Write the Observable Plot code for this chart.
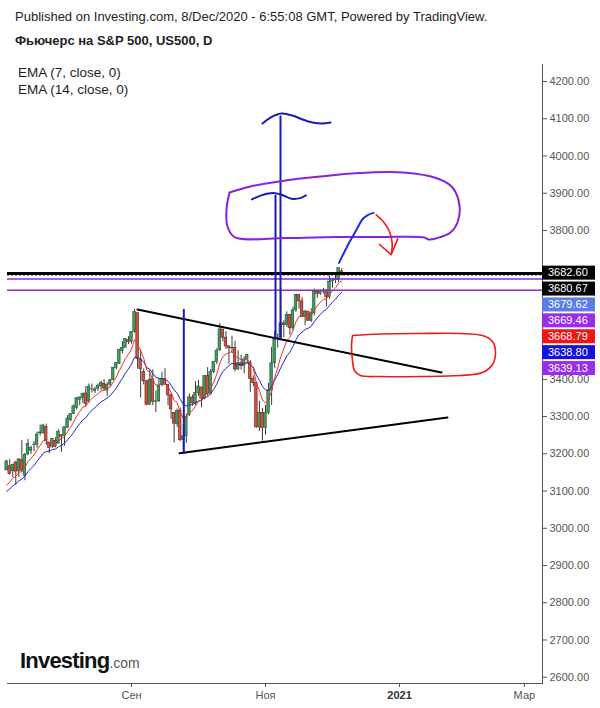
<!DOCTYPE html>
<html><head><meta charset="utf-8">
<script src="https://cdn.jsdelivr.net/npm/d3@7"></script>
<script src="https://cdn.jsdelivr.net/npm/@observablehq/plot@0.6"></script>
<style>
body{margin:0;background:#fff;font-family:Arial,"Liberation Sans",sans-serif;}
#wrap{position:relative;width:600px;height:708px;overflow:hidden;background:#fff;}
#chart{position:absolute;left:0;top:0;}
.t{position:absolute;white-space:nowrap;color:#1e1e1e;line-height:1;}
</style></head><body>
<div id="wrap">
<div id="chart"></div>
<div class="t" style="left:15px;top:10px;font-size:13px;">Published on Investing.com, 8/Dec/2020 - 6:55:08 GMT, Powered by TradingView.</div>
<div class="t" style="left:15px;top:34px;font-size:13px;font-weight:bold;">Фьючерс на S&amp;P 500, US500, D</div>
<div class="t" style="left:18px;top:66px;font-size:13.5px;">EMA (7, close, 0)</div>
<div class="t" style="left:18px;top:83px;font-size:13.5px;">EMA (14, close, 0)</div>
<div class="t" style="left:20px;top:650px;font-size:22px;font-weight:bold;letter-spacing:-0.8px;color:#111;">Investing<span style="font-size:14px;font-weight:normal;letter-spacing:0;color:#555;">.com</span></div>
</div>
<script>
// ---- data: daily bars (weekday index 0 = 6 Jul 2020) ----
const open = [3155.3,3166.4,3153.1,3176.2,3152.5,3183.0,3141.1,3198.0,3208.4,3224.2,
3224.3,3255.0,3254.9,3271.6,3230.0,3219.8,3234.3,3227.2,3250.0,3248.0,
3270.0,3289.9,3307.0,3323.2,3345.0,3350.0,3362.0,3340.0,3373.0,3368.7,
3375.0,3381.0,3388.0,3370.0,3386.0,3398.0,3430.0,3442.0,3476.0,3485.0,
3505.0,3500.0,3527.0,3578.0,3453.6,3420.0,3395.0,3331.8,3400.0,3339.2,
3341.0,3385.0,3400.0,3385.5,3357.0,3310.0,3280.0,3315.6,3236.9,3246.6,
3305.0,3350.9,3335.5,3363.0,3378.0,3350.0,3408.6,3361.0,3419.4,3446.8,
3478.0,3534.0,3511.9,3488.7,3483.3,3483.8,3426.9,3443.1,3435.6,3453.5,
3445.0,3401.0,3390.0,3271.0,3310.1,3270.0,3310.2,3369.2,3443.4,3510.5,
3512.0,3550.5,3545.5,3572.7,3537.0,3585.2,3626.9,3609.5,3567.8,3581.9,
3557.5,3577.6,3635.4,3629.7,3636.0,3638.4,3621.6,3662.5,3669.0,3666.7,
3690.0];
const high = [3182.6,3184.2,3171.8,3179.8,3186.8,3235.3,3201.0,3238.3,3220.4,3233.5,
3258.6,3277.3,3279.3,3280.0,3227.3,3241.4,3243.7,3264.7,3250.9,3272.2,
3302.7,3306.8,3330.8,3351.0,3352.5,3363.3,3381.0,3387.9,3387.2,3378.5,
3387.6,3395.1,3399.5,3390.8,3400.0,3432.1,3444.2,3481.1,3501.4,3509.2,
3514.8,3528.0,3588.1,3578.0,3479.2,3428.0,3396.0,3424.8,3425.6,3369.0,
3402.9,3419.5,3428.9,3385.0,3362.3,3310.0,3320.3,3323.4,3278.7,3306.9,
3360.7,3357.9,3393.6,3397.2,3380.0,3409.6,3431.6,3426.3,3447.3,3482.3,
3549.9,3534.0,3527.9,3489.1,3515.8,3502.4,3476.9,3464.9,3460.5,3466.5,
3450.0,3409.5,3392.0,3341.1,3322.0,3330.1,3389.5,3486.3,3529.1,3521.6,
3646.0,3557.2,3581.2,3575.0,3593.7,3628.5,3623.1,3619.1,3585.2,3581.2,
3589.8,3642.3,3640.0,3640.0,3644.3,3641.0,3678.5,3671.0,3682.7,3699.2,
3697.0];
const low = [3155.3,3142.9,3136.5,3115.7,3136.2,3149.4,3127.7,3195.0,3198.6,3205.7,
3215.2,3247.8,3253.1,3222.7,3200.1,3214.3,3216.2,3227.2,3204.1,3220.3,
3268.0,3286.4,3305.0,3318.1,3328.7,3335.4,3326.4,3336.0,3363.4,3361.6,
3368.0,3370.2,3369.7,3354.7,3379.3,3396.0,3425.8,3440.0,3468.4,3484.3,
3493.3,3494.6,3524.0,3427.4,3349.6,3385.0,3329.3,3331.0,3329.3,3310.5,
3338.0,3380.0,3384.5,3328.8,3292.4,3229.1,3271.0,3232.6,3209.5,3228.4,
3300.0,3327.5,3330.0,3355.0,3323.7,3345.0,3354.5,3358.0,3415.0,3440.0,
3475.0,3500.9,3480.6,3440.9,3470.0,3419.9,3423.0,3425.0,3415.3,3440.5,
3364.9,3380.0,3268.9,3259.8,3233.9,3250.0,3305.0,3330.0,3430.0,3484.3,
3505.0,3511.9,3540.0,3518.6,3530.0,3580.0,3588.7,3567.3,3543.8,3556.9,
3552.8,3570.0,3617.8,3625.0,3629.3,3594.4,3615.0,3644.8,3657.2,3660.0,
3678.0];
const close = [3179.7,3145.3,3169.9,3152.1,3185.0,3155.2,3197.5,3226.6,3215.6,3224.7,
3251.8,3257.3,3276.0,3235.7,3215.6,3239.4,3218.4,3258.4,3246.2,3271.1,
3294.6,3306.5,3327.8,3349.2,3351.3,3360.5,3333.7,3380.4,3373.4,3372.9,
3382.0,3389.8,3374.9,3385.5,3397.2,3431.3,3443.6,3478.7,3484.6,3508.0,
3500.3,3526.7,3580.8,3455.1,3427.0,3395.0,3331.8,3399.0,3339.2,3341.0,
3383.5,3401.2,3385.5,3357.0,3319.5,3281.1,3315.6,3236.9,3246.6,3298.5,
3351.6,3335.5,3363.0,3380.8,3348.4,3408.6,3361.0,3419.4,3446.8,3477.1,
3534.2,3511.9,3488.7,3483.3,3483.8,3426.9,3443.1,3435.6,3453.5,3465.4,
3401.0,3390.7,3271.0,3310.1,3270.0,3310.2,3369.2,3443.4,3510.5,3509.4,
3550.5,3545.5,3572.7,3537.0,3585.2,3626.9,3609.5,3567.8,3581.9,3557.5,
3577.6,3635.4,3629.7,3636.0,3638.4,3621.6,3662.5,3669.0,3666.7,3699.1,
3682.6];
// EMA values just before the first visible bar
const ema7Start = 3095, ema14Start = 3087;

// axes
const monthTickIndex = [41, 85, 129, 170];
const monthTickLabels = ["Сен", "Ноя", "2021", "Мар"];
const priceTicks = [2600,2700,2800,2900,3000,3100,3200,3300,3400,3500,3600,3700,3800,3900,4000,4100,4200];

// horizontal levels
const levelThick = 3684.5, levelDotted = 3680.67, levelsPurple = [3669.46, 3639.13];
// right-side price labels
const priceLabels = [3682.60, 3680.67, 3679.62, 3669.46, 3668.79, 3638.80, 3639.13];

// drawings, in (bar index, price)
const triUpper = [[42.97,3587.6],[142.79,3418.4]];
const triLower = [[56.76,3201.7],[144.75,3297.5]];
const vertLeft = [[58.17,3586.8],[58.17,3201.7]];
const vertTall = [[89.92,4106.0],[89.92,3509.7]];
const vertShort = [[88.28,3893.8],[88.28,3509.7]];
const waveTop = [[84.01,4087.2],[86.64,4103.3],[90.25,4114.1],[93.86,4108.7],[97.15,4097.9],[100.43,4089.9],[103.71,4087.2],[106.34,4089.9]];
const waveLow = [[80.53,3883.3],[83.62,3894.1],[87.49,3900.5],[90.28,3895.9],[93.60,3885.2],[96.39,3886.8],[98.26,3894.1]];
const purpleLoop = [[73.18,3901.9],[80.07,3918.0],[91.56,3934.1],[103.06,3944.8],[113.56,3952.9],[130.31,3955.6],[141.47,3939.5],[146.40,3915.3],[148.70,3866.9],[148.04,3821.3],[145.74,3794.4],[141.47,3779.7],[138.52,3775.6],[137.20,3781.0],[122.76,3782.3],[107.98,3782.3],[91.56,3779.7],[74.82,3782.3],[72.52,3810.5],[72.19,3856.2],[73.18,3901.9]];
const blueRise = [[109.13,3712.8],[112.45,3767.0],[114.68,3799.0],[116.91,3830.7],[118.55,3841.4],[120.46,3847.1]];
const redArrow = [[121.34,3842.0],[123.84,3822.1],[125.81,3795.2],[126.60,3764.1],[126.27,3735.3]];
const redArrowHead = [[122.43,3762.2],[126.27,3735.3],[128.44,3777.5]];
const redLoop = [[113.56,3517.8],[122.76,3521.8],[135.89,3523.2],[149.02,3523.2],[156.25,3517.8],[159.53,3501.7],[160.52,3472.1],[159.53,3439.9],[156.25,3418.4],[149.02,3410.3],[135.89,3407.6],[122.76,3407.6],[116.19,3410.3],[114.22,3423.8],[113.56,3450.6],[113.24,3490.9],[113.56,3517.8]];

// ---- build ----
const bars = open.map((o, i) => ({i, o, h: high[i], l: low[i], c: close[i]}));
let e7 = ema7Start, e14 = ema14Start;
for (const b of bars) {
  e7 = e7 + (2 / 8) * (b.c - e7);
  e14 = e14 + (2 / 15) * (b.c - e14);
  b.e7 = e7; b.e14 = e14;
}
const upBars = bars.filter(b => b.c >= b.o);
const downBars = bars.filter(b => b.c < b.o);
const pt = {x: d => d[0], y: d => d[1]};

const plot = Plot.plot({
  width: 600, height: 708,
  marginLeft: 7, marginRight: 58, marginTop: 64, marginBottom: 25,
  style: {fontFamily: 'Arial, "Liberation Sans", sans-serif', fontSize: "11px", color: "#555", background: "transparent", overflow: "visible"},
  x: {domain: [0.28, 175.95], ticks: monthTickIndex, tickFormat: d => monthTickLabels[monthTickIndex.indexOf(d)], tickSize: 4, tickPadding: 4, line: true, label: null},
  y: {domain: [2583.1, 4245.7], axis: "right", ticks: priceTicks, tickFormat: d => d.toFixed(2), tickSize: 4, tickPadding: 3, line: true, label: null},
  marks: [
    Plot.ruleX(bars, {x: "i", y1: "l", y2: "h", stroke: "#3a3a3a", strokeWidth: 1}),
    Plot.rect(upBars, {x1: d => d.i - 0.42, x2: d => d.i + 0.42, y1: "o", y2: "c", fill: "#3f9a5e", stroke: "#1f5a34", strokeWidth: 0.6}),
    Plot.rect(downBars, {x1: d => d.i - 0.42, x2: d => d.i + 0.42, y1: "o", y2: "c", fill: "#d4513c", stroke: "#6b1e12", strokeWidth: 0.6}),
    Plot.line(bars, {x: "i", y: "e14", stroke: "#2626c8", strokeWidth: 1}),
    Plot.line(bars, {x: "i", y: "e7", stroke: "#e8362c", strokeWidth: 1}),
    Plot.ruleY([levelThick], {stroke: "#000", strokeWidth: 3}),
    Plot.ruleY([levelDotted], {stroke: "#000", strokeWidth: 1, strokeDasharray: "2,2"}),
    Plot.ruleY(levelsPurple, {stroke: "#8c2bd6", strokeWidth: 1.5}),
    Plot.line(triUpper, {...pt, stroke: "#000", strokeWidth: 2}),
    Plot.line(triLower, {...pt, stroke: "#000", strokeWidth: 2}),
    Plot.line(vertLeft, {...pt, stroke: "#1a1ab4", strokeWidth: 2}),
    Plot.line(vertTall, {...pt, stroke: "#1a1ab4", strokeWidth: 2}),
    Plot.line(vertShort, {...pt, stroke: "#1a1ab4", strokeWidth: 2}),
    Plot.line(waveTop, {...pt, stroke: "#1a1ab4", strokeWidth: 2, curve: "catmull-rom"}),
    Plot.line(waveLow, {...pt, stroke: "#1a1ab4", strokeWidth: 2, curve: "catmull-rom"}),
    Plot.line(purpleLoop, {...pt, stroke: "#8a22d8", strokeWidth: 2, curve: "catmull-rom"}),
    Plot.line(blueRise, {...pt, stroke: "#1e2ee0", strokeWidth: 2, curve: "catmull-rom"}),
    Plot.line(redArrow, {...pt, stroke: "#ee1b1b", strokeWidth: 1.6, curve: "catmull-rom"}),
    Plot.line(redArrowHead, {...pt, stroke: "#ee1b1b", strokeWidth: 1.6}),
    Plot.line(redLoop, {...pt, stroke: "#ee1b1b", strokeWidth: 1.6, curve: "catmull-rom"})
  ]
});

// bold "2021"
d3.select(plot).selectAll("text").filter(function () { return this.textContent === "2021"; })
  .attr("font-weight", "bold").attr("fill", "#333");

// stacked price labels on the right axis
const yScale = plot.scale("y");
const labelColors = ["#000000", "#000000", "#5a7ee4", "#9a2ee8", "#f01414", "#1212dc", "#9a2ee8"];
const boxes = [];
let prev = -Infinity;
priceLabels.forEach((v) => {
  let cy = yScale.apply(v) - 1;
  if (cy < prev + 15.9) cy = prev + 15.9;
  prev = cy;
  boxes.push(cy);
});
// tick labels hidden behind the label boxes (as in the reference) are not drawn
d3.select(plot).selectAll("text").filter(function () {
  const t = this.textContent;
  if (!/^\d{4}\.00$/.test(t)) return false;
  const ty = yScale.apply(+t);
  return boxes.some(cy => Math.abs(ty - cy) <= 7.5);
}).remove();

const g = d3.select(plot).append("g").attr("text-anchor", "start");
boxes.forEach((cy, k) => {
  g.append("rect").attr("x", 542).attr("y", cy - 7).attr("width", 53).attr("height", 14).attr("fill", labelColors[k]);
  g.append("text").attr("x", 548).attr("y", cy).attr("dy", "0.35em").attr("fill", "#fff").attr("text-anchor", "start")
    .attr("font-size", 11).attr("font-family", 'Arial, "Liberation Sans", sans-serif').text(priceLabels[k].toFixed(2));
});

document.getElementById("chart").appendChild(plot);
</script>
</body></html>
